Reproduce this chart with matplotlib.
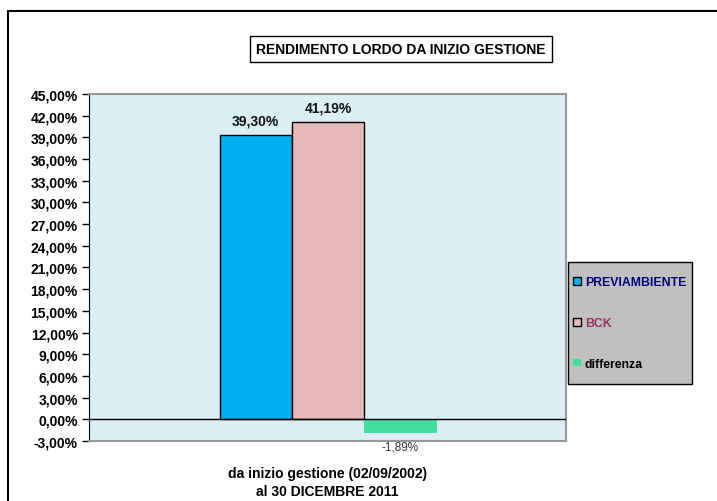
import matplotlib
matplotlib.use('Agg')
import matplotlib.pyplot as plt
from matplotlib.patches import Rectangle
from matplotlib.ticker import FuncFormatter, MultipleLocator
import numpy as np

plt.rcParams['font.family'] = ['Liberation Sans', 'DejaVu Sans']

# data
series = ['PREVIAMBIENTE', 'BCK', 'differenza']
values = [39.30, 41.19, -1.89]
bar_colors = ['#00B0F0', '#E6B8B7', '#40DFA0']
edge_colors = ['black', 'black', 'none']
legend_text_colors = ['#000080', '#993366', 'black']
title = 'RENDIMENTO LORDO DA INIZIO GESTIONE'
xlabel = 'da inizio gestione (02/09/2002)\nal 30 DICEMBRE 2011'


def it_pct(v, pos=None):
    return ('%.2f%%' % v).replace('.', ',')


fig = plt.figure(figsize=(7.17, 5.02), dpi=100)
fig.patch.set_facecolor('white')
ax = fig.add_axes([0.1241, 0.1195, 0.6653, 0.6913])
ax.set_facecolor('#DAEEF3')

xs = np.arange(len(values)) - 1
for i in range(len(values)):
    ax.bar(xs[i], values[i], width=1.0, color=bar_colors[i],
           edgecolor=edge_colors[i], linewidth=1.0, label=series[i], zorder=2)

ax.axhline(0, color='black', linewidth=1.0, zorder=3)

ax.set_xlim(-3.306, 3.29)
ax.set_ylim(-3, 45)
ax.yaxis.set_major_locator(MultipleLocator(3))
ax.yaxis.set_major_formatter(FuncFormatter(it_pct))
ax.set_xticks([])
ax.tick_params(axis='y', direction='out', length=5, width=1, color='black',
               labelsize=10, pad=3)
for lbl in ax.get_yticklabels():
    lbl.set_fontweight('bold')

ax.spines['left'].set_color('black')
for s in ['top', 'right', 'bottom']:
    ax.spines[s].set_color('#999999')
    ax.spines[s].set_linewidth(1.5)

# value labels
for i, v in enumerate(values):
    if v >= 0:
        ax.text(xs[i], v + 1.0, it_pct(v), ha='center', va='bottom',
                fontsize=10, fontweight='bold', color='#111111')
    else:
        ax.text(xs[i], v - 1.0, it_pct(v), ha='center', va='top',
                fontsize=8.5, color='#333333')

# x label
ax.text(0.5, -0.117, xlabel, transform=ax.transAxes, ha='center', va='center',
        fontsize=10, fontweight='bold', linespacing=1.35)

# title in box
fig.text(0.5586, 0.9004, title, ha='center', va='center', fontsize=10,
         fontweight='bold',
         bbox=dict(boxstyle='square,pad=0.45', facecolor='white',
                   edgecolor='black', linewidth=1.0))

# legend box (drawn behind the axes so the legend sits on top)
fig.add_artist(Rectangle((568 / 717, 1 - 385 / 502), 124 / 717, 122 / 502,
                         transform=fig.transFigure, facecolor='#C0C0C0',
                         edgecolor='black', linewidth=1.0, zorder=-1))
leg = ax.legend(loc='center left', bbox_to_anchor=(572 / 717, 1 - 324 / 502),
                bbox_transform=fig.transFigure, frameon=False,
                prop={'size': 8.8, 'weight': 'bold'},
                labelcolor=legend_text_colors, handlelength=0.6,
                handleheight=0.6, handletextpad=0.35, labelspacing=2.35,
                borderpad=0.1, borderaxespad=0.0)
leg.set_zorder(5)

# outer border
fig.add_artist(Rectangle((8 / 717, -0.2), 1.2, 1.2 - 12 / 502,
                         transform=fig.transFigure, fill=False,
                         edgecolor='black', linewidth=1.5))

fig.savefig('out.png', dpi=100)
